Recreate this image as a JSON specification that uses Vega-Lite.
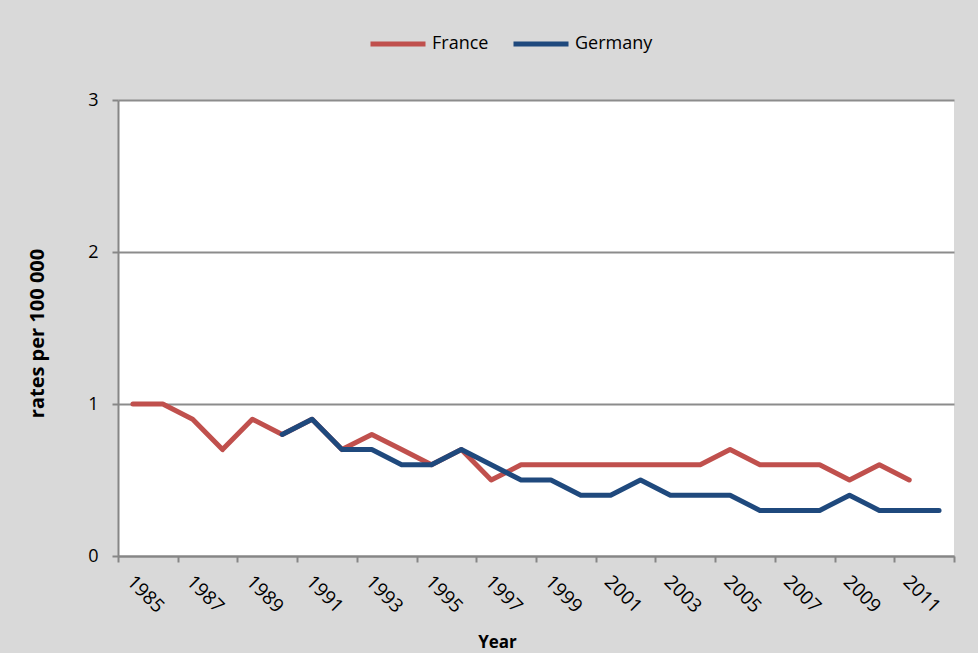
{
  "$schema": "https://vega.github.io/schema/vega-lite/v6.json",
  "autosize": {"type": "none"},
  "width": 836,
  "height": 456,
  "padding": {"left": 118, "top": 100, "right": 24, "bottom": 97},
  "background": "#d9d9d9",
  "config": {
    "font": "Open Sans",
    "view": {"fill": "white", "stroke": null}
  },
  "data": {
    "values": [
      {"year": 1985, "country": "France", "rate": 1.0},
      {"year": 1986, "country": "France", "rate": 1.0},
      {"year": 1987, "country": "France", "rate": 0.9},
      {"year": 1988, "country": "France", "rate": 0.7},
      {"year": 1989, "country": "France", "rate": 0.9},
      {"year": 1990, "country": "France", "rate": 0.8},
      {"year": 1991, "country": "France", "rate": 0.9},
      {"year": 1992, "country": "France", "rate": 0.7},
      {"year": 1993, "country": "France", "rate": 0.8},
      {"year": 1994, "country": "France", "rate": 0.7},
      {"year": 1995, "country": "France", "rate": 0.6},
      {"year": 1996, "country": "France", "rate": 0.7},
      {"year": 1997, "country": "France", "rate": 0.5},
      {"year": 1998, "country": "France", "rate": 0.6},
      {"year": 1999, "country": "France", "rate": 0.6},
      {"year": 2000, "country": "France", "rate": 0.6},
      {"year": 2001, "country": "France", "rate": 0.6},
      {"year": 2002, "country": "France", "rate": 0.6},
      {"year": 2003, "country": "France", "rate": 0.6},
      {"year": 2004, "country": "France", "rate": 0.6},
      {"year": 2005, "country": "France", "rate": 0.7},
      {"year": 2006, "country": "France", "rate": 0.6},
      {"year": 2007, "country": "France", "rate": 0.6},
      {"year": 2008, "country": "France", "rate": 0.6},
      {"year": 2009, "country": "France", "rate": 0.5},
      {"year": 2010, "country": "France", "rate": 0.6},
      {"year": 2011, "country": "France", "rate": 0.5},
      {"year": 1990, "country": "Germany", "rate": 0.8},
      {"year": 1991, "country": "Germany", "rate": 0.9},
      {"year": 1992, "country": "Germany", "rate": 0.7},
      {"year": 1993, "country": "Germany", "rate": 0.7},
      {"year": 1994, "country": "Germany", "rate": 0.6},
      {"year": 1995, "country": "Germany", "rate": 0.6},
      {"year": 1996, "country": "Germany", "rate": 0.7},
      {"year": 1997, "country": "Germany", "rate": 0.6},
      {"year": 1998, "country": "Germany", "rate": 0.5},
      {"year": 1999, "country": "Germany", "rate": 0.5},
      {"year": 2000, "country": "Germany", "rate": 0.4},
      {"year": 2001, "country": "Germany", "rate": 0.4},
      {"year": 2002, "country": "Germany", "rate": 0.5},
      {"year": 2003, "country": "Germany", "rate": 0.4},
      {"year": 2004, "country": "Germany", "rate": 0.4},
      {"year": 2005, "country": "Germany", "rate": 0.4},
      {"year": 2006, "country": "Germany", "rate": 0.3},
      {"year": 2007, "country": "Germany", "rate": 0.3},
      {"year": 2008, "country": "Germany", "rate": 0.3},
      {"year": 2009, "country": "Germany", "rate": 0.4},
      {"year": 2010, "country": "Germany", "rate": 0.3},
      {"year": 2011, "country": "Germany", "rate": 0.3},
      {"year": 2012, "country": "Germany", "rate": 0.3}
    ]
  },
  "mark": {"type": "line", "strokeWidth": 5, "strokeJoin": "round", "strokeCap": "round"},
  "encoding": {
    "x": {
      "field": "year",
      "type": "quantitative",
      "scale": {"domain": [1984.5, 2012.5], "nice": false, "zero": false},
      "axis": {
        "title": "Year",
        "titleFont": "Open Sans",
        "titleFontSize": 17,
        "titleFontWeight": "bold",
        "titleColor": "black",
        "titleX": 379,
        "titleY": 86,
        "titleAlign": "center",
        "titleBaseline": "middle",
        "values": [1984.5, 1986.5, 1988.5, 1990.5, 1992.5, 1994.5, 1996.5, 1998.5, 2000.5, 2002.5, 2004.5, 2006.5, 2008.5, 2010.5, 2012.5],
        "labelExpr": "datum.value > 2012 ? '' : '' + (datum.value + 0.5)",
        "labelOffset": 18,
        "labelAngle": 45,
        "labelAlign": "left",
        "labelBaseline": "top",
        "labelPadding": 10,
        "labelFontSize": 19,
        "labelColor": "black",
        "labelFlush": false,
        "labelOverlap": false,
        "tickSize": 6,
        "tickColor": "#868686",
        "tickWidth": 2,
        "domainColor": "#868686",
        "domainWidth": 2,
        "grid": false
      }
    },
    "y": {
      "field": "rate",
      "type": "quantitative",
      "scale": {"domain": [0, 3], "nice": false},
      "axis": {
        "title": "rates per 100 000",
        "titleFontSize": 20,
        "titleFontWeight": "bold",
        "titleColor": "black",
        "titleAngle": -90,
        "titleX": -81,
        "titleY": 233,
        "titleAlign": "center",
        "titleBaseline": "middle",
        "values": [0, 1, 2, 3],
        "format": "d",
        "labelFontSize": 18,
        "labelColor": "black",
        "labelPadding": 14,
        "tickSize": 6,
        "tickColor": "#868686",
        "tickWidth": 2,
        "domainColor": "#868686",
        "domainWidth": 2,
        "grid": true,
        "gridColor": "#8c8c8c",
        "gridWidth": 2
      }
    },
    "color": {
      "field": "country",
      "type": "nominal",
      "scale": {"domain": ["France", "Germany"], "range": ["#c0504d", "#1f497d"]},
      "legend": {
        "title": null,
        "orient": "none",
        "direction": "horizontal",
        "legendX": 250,
        "legendY": -86,
        "symbolType": "stroke",
        "symbolSize": 3025,
        "symbolStrokeWidth": 5,
        "labelFontSize": 18,
        "labelColor": "black",
        "labelOffset": 4,
        "columnPadding": 14
      }
    }
  }
}
